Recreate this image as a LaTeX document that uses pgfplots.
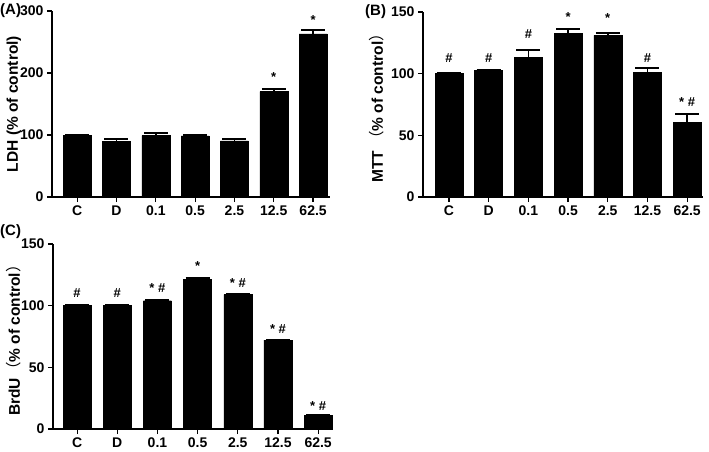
\documentclass[border=0pt]{standalone}
\usepackage{pgfplots}
\pgfplotsset{compat=1.18}
\usepackage{fontspec}
\setmainfont{Liberation Sans}
\newfontfamily\cjk{Noto Sans CJK SC}
\pgfplotsset{
 gp/.style={
  scale only axis,
  axis lines*=left,
  axis line style={-, line width=1.3pt},
  ymin=0,
  xtick={0,...,6},
  xticklabels={C,D,0.1,0.5,2.5,12.5,62.5},
  tick align=outside,
  major tick length=5pt,
  tick style={black, line width=1.2pt},
  ticklabel style={font=\fontsize{14}{14}\selectfont\bfseries},
  /pgf/number format/assume math mode=true,
  ybar, bar width=28pt,
  ylabel style={font=\fontsize{15.5}{15.5}\selectfont\bfseries, anchor=center},
  clip=false,
 },
 gpbar/.style={fill=black, draw=black, error bars/.cd, y dir=plus, y explicit,
   error bar style={line width=1.5pt, black}, error mark options={rotate=90, line width=2pt, mark size=12pt, black}},
}
\newcommand{\ann}[3]{\node[font=\fontsize{13}{13}\selectfont\bfseries] at (axis cs:#1,#2) {#3};}
\begin{document}
\begin{tikzpicture}
\useasboundingbox (0,0) rectangle (709pt,451pt);
\node[anchor=west, font=\fontsize{15}{15}\selectfont\bfseries, inner sep=0pt] at (0pt,440pt) {(A)};
\node[anchor=west, font=\fontsize{15}{15}\selectfont\bfseries, inner sep=0pt] at (365pt,439pt) {(B)};
\node[anchor=west, font=\fontsize{15}{15}\selectfont\bfseries, inner sep=0pt] at (0pt,219pt) {(C)};
% Panel A
\begin{axis}[gp, at={(52pt,254pt)}, anchor=south west, width=278pt, height=186pt,
  xmin=-0.64, xmax=6.43, ymax=300, ytick={0,100,200,300},
  ylabel={LDH (\% of control)}, ylabel style={at={(axis description cs:-0.137,0.5)}}]
\addplot[gpbar] coordinates {
 (0,100) +- (0,0.5)
 (1,90) +- (0,4)
 (2,99) +- (0,3.5)
 (3,98.5) +- (0,2)
 (4,90.5) +- (0,2.5)
 (5,170) +- (0,4)
 (6,263) +- (0,6)
};
\ann{5}{194}{*}
\ann{6}{285}{*}
\end{axis}
% Panel B
\begin{axis}[gp, at={(423pt,254pt)}, anchor=south west, width=280pt, height=185pt,
  xmin=-0.655, xmax=6.40, ymax=150, ytick={0,50,100,150},
  ylabel={MTT {\cjk\mdseries （}\% of control{\cjk\mdseries ）}}, ylabel style={at={(axis description cs:-0.164,0.5)}}]
\addplot[gpbar] coordinates {
 (0,100.5) +- (0,0.3)
 (1,102.5) +- (0,0.5)
 (2,113) +- (0,6)
 (3,132.5) +- (0,3.5)
 (4,131) +- (0,2)
 (5,101) +- (0,3.5)
 (6,60.5) +- (0,6.5)
};
\ann{0}{113}{\#}
\ann{1}{113}{\#}
\ann{2}{132}{\#}
\ann{3}{146}{*}
\ann{4}{145}{*}
\ann{5}{113}{\#}
\ann{6}{77}{* \#}
\end{axis}
% Panel C
\begin{axis}[gp, at={(53pt,22pt)}, anchor=south west, width=280pt, height=185pt,
  xmin=-0.6, xmax=6.37, ymax=150, ytick={0,50,100,150},
  ylabel={BrdU{\cjk\mdseries （}\% of control{\cjk\mdseries ）}}, ylabel style={at={(axis description cs:-0.139,0.5)}}]
\addplot[gpbar] coordinates {
 (0,100.5) +- (0,0.3)
 (1,100) +- (0,0.5)
 (2,104) +- (0,1)
 (3,121.5) +- (0,1)
 (4,109) +- (0,0.5)
 (5,72) +- (0,0.5)
 (6,11) +- (0,0.5)
};
\ann{0}{110}{\#}
\ann{1}{110}{\#}
\ann{2}{114}{* \#}
\ann{3}{132}{*}
\ann{4}{118}{* \#}
\ann{5}{81}{* \#}
\ann{6}{19}{* \#}
\end{axis}
\end{tikzpicture}
\end{document}
